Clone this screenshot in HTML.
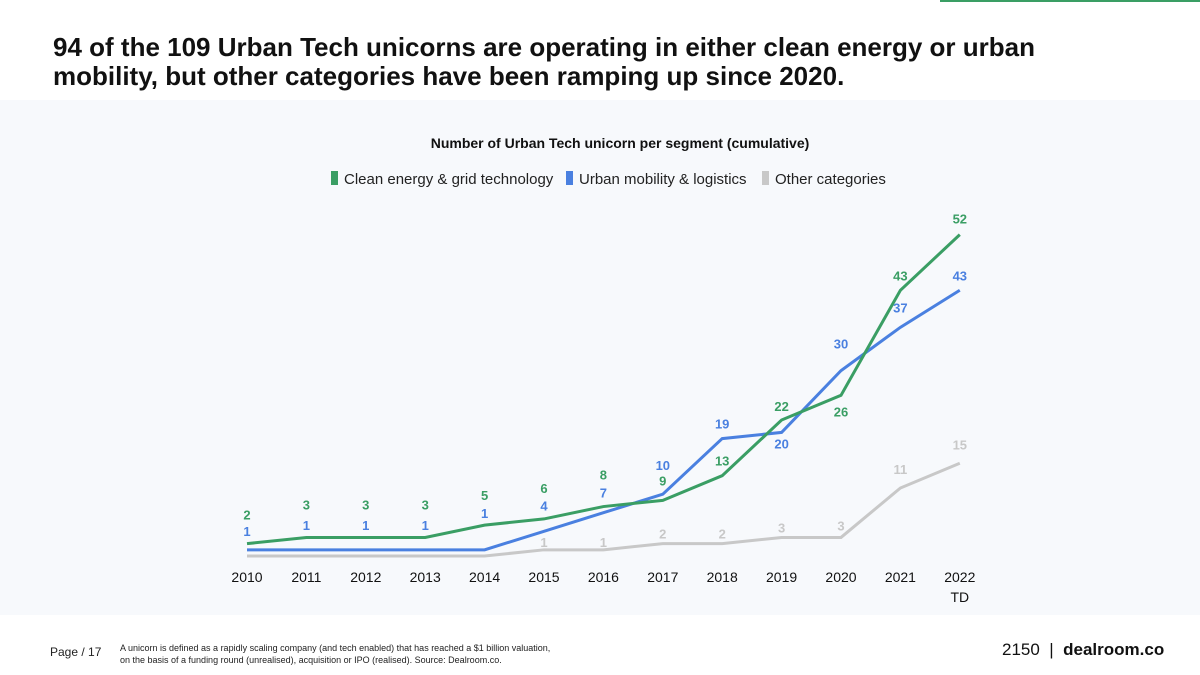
<!DOCTYPE html>
<html><head><meta charset="utf-8">
<style>
body{margin:0;width:1200px;height:675px;background:#fff;font-family:"Liberation Sans",sans-serif;overflow:hidden;position:relative}
#title{position:absolute;left:53px;top:33px;font-size:26px;font-weight:bold;line-height:29px;color:#111;letter-spacing:0px}
#panel{position:absolute;left:0;top:100px;width:1200px;height:515px;background:#f7f9fc}
#topline{position:absolute;left:940px;top:0;width:260px;height:2px;background:#3a9e64}
.foot{position:absolute;font-size:10px;color:#222}
</style></head><body>
<div id="topline"></div>
<div id="title">94 of the 109 Urban Tech unicorns are operating in either clean energy or urban<br>mobility, but other categories have been ramping up since 2020.</div>
<div id="panel"></div>
<svg id="chart" width="1200" height="675" style="position:absolute;left:0;top:0"></svg>
<div class="foot" style="left:50px;top:645px;font-size:12px">Page / 17</div>
<div class="foot" style="left:120px;top:642px;line-height:12px;font-size:9px">A unicorn is defined as a rapidly scaling company (and tech enabled) that has reached a $1 billion valuation,<br>on the basis of a funding round (unrealised), acquisition or IPO (realised). Source: Dealroom.co.</div>
<div class="foot" style="left:1002px;top:640px;font-size:17px;color:#111">2150 &nbsp;| &nbsp;<b>dealroom.co</b></div>
<script>
const categories=["2010","2011","2012","2013","2014","2015","2016","2017","2018","2019","2020","2021","2022"];
const clean=[2,3,3,3,5,6,8,9,13,22,26,43,52];
const mobility=[1,1,1,1,1,4,7,10,19,20,30,37,43];
const other=[0,0,0,0,0,1,1,2,2,3,3,11,15];
const cleanDy=[-29,-33,-33,-33,-30,-31,-32,-20,-15,-14,16,-15,-16];
const mobDy=[-19,-25,-25,-25,-37,-26,-20,-29,-15,11,-27,-20,-15];
const otherDy=[0,0,0,0,0,-8,-8,-10,-10,-10,-12,-19,-19];
const svg=document.getElementById('chart');const NS='http://www.w3.org/2000/svg';
const x=i=>247+i*59.4;const y=v=>556-v*6.18;
function el(t,a){const e=document.createElementNS(NS,t);for(const k in a)e.setAttribute(k,a[k]);svg.appendChild(e);return e;}
let t=el('text',{x:620,y:148,'text-anchor':'middle','font-size':14,'font-weight':'bold',fill:'#111'});t.textContent='Number of Urban Tech unicorn per segment (cumulative)';

const leg=[["#3a9e64","Clean energy & grid technology",331],["#4a80e0","Urban mobility & logistics",566],["#c8c8c8","Other categories",762]];
leg.forEach(l=>{const g=el('g',{});
const r=document.createElementNS(NS,'rect');r.setAttribute('x',l[2]);r.setAttribute('y',171);r.setAttribute('width',7);r.setAttribute('height',14);r.setAttribute('fill',l[0]);g.appendChild(r);
const tx=document.createElementNS(NS,'text');tx.setAttribute('x',l[2]+13);tx.setAttribute('y',184);tx.setAttribute('font-size',15);tx.setAttribute('fill','#222');tx.textContent=l[1];g.appendChild(tx);});
categories.forEach((c,i)=>{const tt=el('text',{x:x(i),y:582,'text-anchor':'middle','font-size':14,fill:'#111'});tt.textContent=c;
});
let td=el('text',{x:x(12),y:602,'text-anchor':'middle','font-size':14,fill:'#111'});td.textContent='TD';
const series=[[other,"#c8c8c8",otherDy,'other-line'],[mobility,"#4a80e0",mobDy,'mobility-line'],[clean,"#3a9e64",cleanDy,'clean-line']];
series.forEach(s=>{const p=el('polyline',{points:s[0].map((v,i)=>x(i)+','+y(v)).join(' '),fill:'none',stroke:s[1],'stroke-width':3});

s[0].forEach((v,i)=>{if(v===0)return;const l=el('text',{x:x(i),y:y(v)+s[2][i]+5,'text-anchor':'middle','font-size':13,'font-weight':'bold',fill:s[1]});l.textContent=v;
});});
</script>
</body></html>
